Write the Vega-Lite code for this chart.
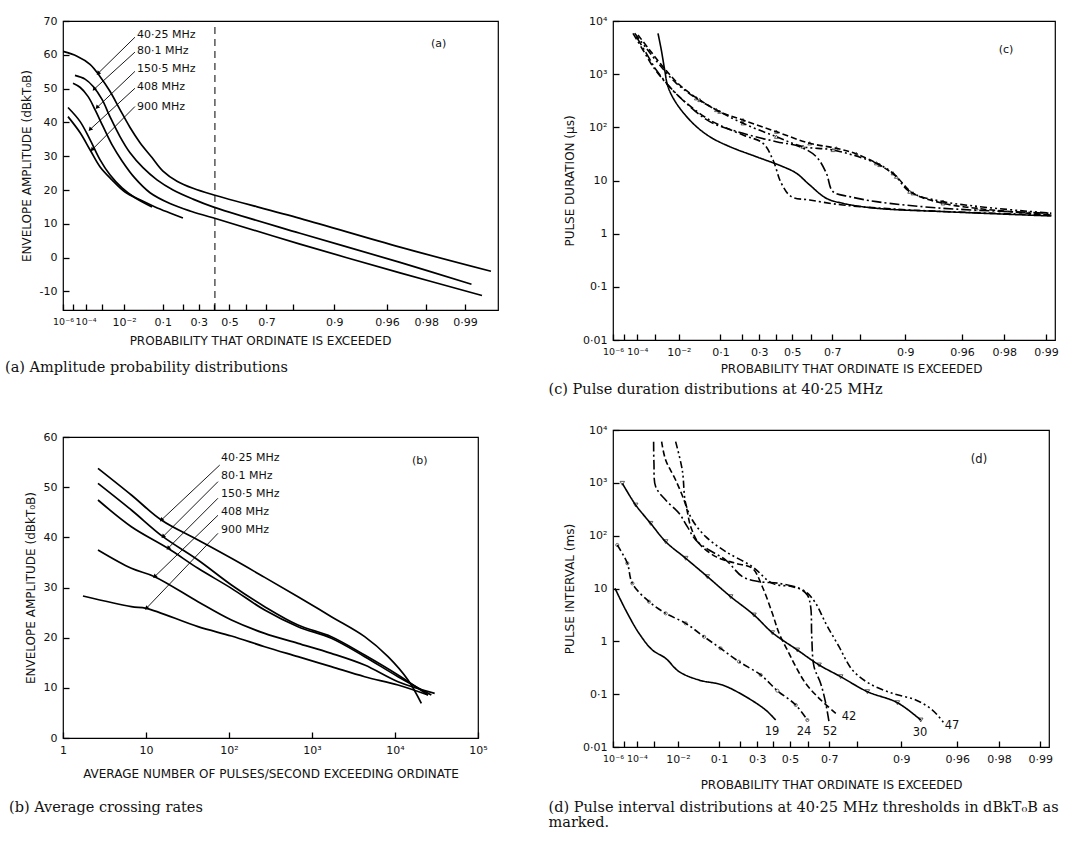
{
  "$schema": "https://vega.github.io/schema/vega-lite/v6.json",
  "background": "white",
  "padding": {"left": 4, "top": 14, "right": 0, "bottom": 0},
  "datasets": {
    "a_curves": [
      {"s": "40·25", "q": 13.8, "y": 61.0}, {"s": "40·25", "q": 10.74, "y": 59.6}, {"s": "40·25", "q": 8.5, "y": 57.2}, {"s": "40·25", "q": 7.11, "y": 53.6}, {"s": "40·25", "q": 5.94, "y": 49.2}, {"s": "40·25", "q": 4.96, "y": 43.8}, {"s": "40·25", "q": 4.14, "y": 38.5}, {"s": "40·25", "q": 3.46, "y": 34.0}, {"s": "40·25", "q": 2.79, "y": 29.6}, {"s": "40·25", "q": 2.29, "y": 25.6}, {"s": "40·25", "q": 1.78, "y": 22.6}, {"s": "40·25", "q": 1.335, "y": 20.5}, {"s": "40·25", "q": 0.932, "y": 18.6}, {"s": "40·25", "q": 0.195, "y": 11.6}, {"s": "40·25", "q": 0.0323, "y": 3.1}, {"s": "40·25", "q": 0.0063, "y": -4.05},
      {"s": "80·1", "q": 11.14, "y": 53.9}, {"s": "80·1", "q": 9.3, "y": 52.8}, {"s": "80·1", "q": 8.06, "y": 50.7}, {"s": "80·1", "q": 6.85, "y": 46.8}, {"s": "80·1", "q": 5.94, "y": 41.7}, {"s": "80·1", "q": 4.96, "y": 35.8}, {"s": "80·1", "q": 4.14, "y": 31.0}, {"s": "80·1", "q": 3.28, "y": 26.6}, {"s": "80·1", "q": 2.55, "y": 23.0}, {"s": "80·1", "q": 1.91, "y": 20.0}, {"s": "80·1", "q": 1.335, "y": 17.3}, {"s": "80·1", "q": 0.932, "y": 15.0}, {"s": "80·1", "q": 0.195, "y": 7.2}, {"s": "80·1", "q": 0.0323, "y": -1.4}, {"s": "80·1", "q": 0.00894, "y": -7.9},
      {"s": "150·5", "q": 11.54, "y": 51.6}, {"s": "150·5", "q": 10.18, "y": 50.4}, {"s": "150·5", "q": 8.82, "y": 47.7}, {"s": "150·5", "q": 7.77, "y": 43.8}, {"s": "150·5", "q": 6.73, "y": 38.8}, {"s": "150·5", "q": 5.73, "y": 33.4}, {"s": "150·5", "q": 4.78, "y": 28.6}, {"s": "150·5", "q": 3.79, "y": 23.5}, {"s": "150·5", "q": 2.89, "y": 19.2}, {"s": "150·5", "q": 2.02, "y": 16.0}, {"s": "150·5", "q": 1.41, "y": 13.8}, {"s": "150·5", "q": 0.932, "y": 11.8}, {"s": "150·5", "q": 0.195, "y": 4.0}, {"s": "150·5", "q": 0.0323, "y": -4.5}, {"s": "150·5", "q": 0.0074, "y": -11.2},
      {"s": "408", "q": 12.63, "y": 44.4}, {"s": "408", "q": 10.18, "y": 40.3}, {"s": "408", "q": 8.5, "y": 34.9}, {"s": "408", "q": 7.11, "y": 29.0}, {"s": "408", "q": 5.94, "y": 24.5}, {"s": "408", "q": 4.78, "y": 20.6}, {"s": "408", "q": 3.79, "y": 17.7}, {"s": "408", "q": 2.79, "y": 15.0},
      {"s": "900", "q": 12.63, "y": 41.7}, {"s": "900", "q": 10.18, "y": 37.0}, {"s": "900", "q": 8.5, "y": 31.9}, {"s": "900", "q": 7.11, "y": 26.9}, {"s": "900", "q": 5.73, "y": 23.0}, {"s": "900", "q": 4.53, "y": 19.4}, {"s": "900", "q": 3.46, "y": 17.1}, {"s": "900", "q": 2.64, "y": 15.0}, {"s": "900", "q": 2.02, "y": 13.2}, {"s": "900", "q": 1.6, "y": 11.7}
    ],
    "a_labels": [
      {"q": 3.65, "y": 65.8, "t": "40·25 MHz"},
      {"q": 3.65, "y": 61.1, "t": "80·1 MHz"},
      {"q": 3.65, "y": 55.7, "t": "150·5 MHz"},
      {"q": 3.65, "y": 50.4, "t": "408 MHz"},
      {"q": 3.65, "y": 44.7, "t": "900 MHz"},
      {"q": 0.0185, "y": 63.2, "t": "(a)"}
    ],
    "a_leaders": [
      {"q": 3.79, "y": 65.2, "q2": 7.36, "y2": 54.5},
      {"q": 3.79, "y": 60.8, "q2": 7.91, "y2": 49.8},
      {"q": 3.79, "y": 55.1, "q2": 7.5, "y2": 44.4},
      {"q": 3.79, "y": 50.1, "q2": 8.5, "y2": 37.9},
      {"q": 3.79, "y": 44.7, "q2": 8.2, "y2": 31.9}
    ],
    "b_curves": [
      {"s": "40·25", "x": 2.64, "y": 53.75}, {"s": "40·25", "x": 6.66, "y": 48.44}, {"s": "40·25", "x": 15.3, "y": 43.45}, {"s": "40·25", "x": 42.3, "y": 39.47}, {"s": "40·25", "x": 107, "y": 35.81}, {"s": "40·25", "x": 269, "y": 32.02}, {"s": "40·25", "x": 678, "y": 28.17}, {"s": "40·25", "x": 1710, "y": 24.18}, {"s": "40·25", "x": 4310, "y": 20.2}, {"s": "40·25", "x": 8240, "y": 16.21}, {"s": "40·25", "x": 14340, "y": 11.56}, {"s": "40·25", "x": 20770, "y": 6.91},
      {"s": "80·1", "x": 2.64, "y": 50.76}, {"s": "80·1", "x": 6.66, "y": 45.45}, {"s": "80·1", "x": 16.0, "y": 40.13}, {"s": "80·1", "x": 42.3, "y": 35.48}, {"s": "80·1", "x": 107, "y": 30.5}, {"s": "80·1", "x": 269, "y": 26.18}, {"s": "80·1", "x": 678, "y": 22.52}, {"s": "80·1", "x": 1710, "y": 20.2}, {"s": "80·1", "x": 4310, "y": 16.54}, {"s": "80·1", "x": 10870, "y": 12.56}, {"s": "80·1", "x": 24980, "y": 8.57},
      {"s": "150·5", "x": 2.64, "y": 47.44}, {"s": "150·5", "x": 6.66, "y": 42.12}, {"s": "150·5", "x": 18.4, "y": 37.81}, {"s": "150·5", "x": 42.3, "y": 33.82}, {"s": "150·5", "x": 107, "y": 29.83}, {"s": "150·5", "x": 269, "y": 25.51}, {"s": "150·5", "x": 678, "y": 22.19}, {"s": "150·5", "x": 1710, "y": 19.87}, {"s": "150·5", "x": 4310, "y": 16.21}, {"s": "150·5", "x": 10870, "y": 12.22}, {"s": "150·5", "x": 27400, "y": 8.57},
      {"s": "408", "x": 2.64, "y": 37.47}, {"s": "408", "x": 6.66, "y": 33.82}, {"s": "408", "x": 12.7, "y": 32.16}, {"s": "408", "x": 42.3, "y": 27.17}, {"s": "408", "x": 107, "y": 23.52}, {"s": "408", "x": 269, "y": 20.86}, {"s": "408", "x": 678, "y": 18.87}, {"s": "408", "x": 1710, "y": 16.88}, {"s": "408", "x": 4310, "y": 14.55}, {"s": "408", "x": 10870, "y": 11.23}, {"s": "408", "x": 30060, "y": 8.9},
      {"s": "900", "x": 1.74, "y": 28.3}, {"s": "900", "x": 6.66, "y": 26.18}, {"s": "900", "x": 10.1, "y": 25.85}, {"s": "900", "x": 42.3, "y": 22.19}, {"s": "900", "x": 107, "y": 20.33}, {"s": "900", "x": 269, "y": 18.2}, {"s": "900", "x": 678, "y": 16.21}, {"s": "900", "x": 1710, "y": 14.22}, {"s": "900", "x": 4310, "y": 12.22}, {"s": "900", "x": 10870, "y": 10.56}, {"s": "900", "x": 24980, "y": 8.57}
    ],
    "b_labels": [
      {"x": 80, "y": 55.8, "t": "40·25 MHz"},
      {"x": 80, "y": 52.2, "t": "80·1 MHz"},
      {"x": 80, "y": 48.6, "t": "150·5 MHz"},
      {"x": 80, "y": 45.0, "t": "408 MHz"},
      {"x": 80, "y": 41.5, "t": "900 MHz"},
      {"x": 16030, "y": 55.2, "t": "(b)"}
    ],
    "b_leaders": [
      {"x": 77.3, "y": 54.4, "x2": 15.3, "y2": 43.45},
      {"x": 73.7, "y": 51.1, "x2": 16.0, "y2": 40.13},
      {"x": 73.7, "y": 47.8, "x2": 18.4, "y2": 37.81},
      {"x": 73.7, "y": 44.4, "x2": 12.7, "y2": 32.16},
      {"x": 73.7, "y": 40.8, "x2": 10.1, "y2": 25.85}
    ],
    "c_curves": [
      {"s": "c1", "q": 6.52, "y": 5860}, {"s": "c1", "q": 6.17, "y": 2850}, {"s": "c1", "q": 5.83, "y": 1197}, {"s": "c1", "q": 5.52, "y": 581}, {"s": "c1", "q": 4.8, "y": 283}, {"s": "c1", "q": 3.64, "y": 119}, {"s": "c1", "q": 2.75, "y": 66.7}, {"s": "c1", "q": 1.97, "y": 43.3}, {"s": "c1", "q": 1.264, "y": 28.0}, {"s": "c1", "q": 0.81, "y": 18.2}, {"s": "c1", "q": 0.648, "y": 13.7}, {"s": "c1", "q": 0.519, "y": 8.24}, {"s": "c1", "q": 0.393, "y": 4.62}, {"s": "c1", "q": 0.298, "y": 3.72}, {"s": "c1", "q": 0.1707, "y": 3.0}, {"s": "c1", "q": 0.0561, "y": 2.6}, {"s": "c1", "q": 0.0092, "y": 2.15},
      {"s": "c2", "q": 9.9, "y": 5860}, {"s": "c2", "q": 8.38, "y": 2850}, {"s": "c2", "q": 7.09, "y": 1385}, {"s": "c2", "q": 5.68, "y": 673}, {"s": "c2", "q": 4.3, "y": 327}, {"s": "c2", "q": 2.75, "y": 137}, {"s": "c2", "q": 1.579, "y": 71.8}, {"s": "c2", "q": 1.131, "y": 50.1}, {"s": "c2", "q": 0.957, "y": 24.3}, {"s": "c2", "q": 0.833, "y": 8.85}, {"s": "c2", "q": 0.705, "y": 4.97}, {"s": "c2", "q": 0.519, "y": 4.3}, {"s": "c2", "q": 0.298, "y": 3.46}, {"s": "c2", "q": 0.0979, "y": 2.79}, {"s": "c2", "q": 0.0092, "y": 2.24},
      {"s": "c3", "q": 9.37, "y": 5070}, {"s": "c3", "q": 7.92, "y": 2466}, {"s": "c3", "q": 6.71, "y": 1197}, {"s": "c3", "q": 5.37, "y": 581}, {"s": "c3", "q": 4.06, "y": 283}, {"s": "c3", "q": 2.75, "y": 128}, {"s": "c3", "q": 1.579, "y": 77.3}, {"s": "c3", "q": 0.905, "y": 53.7}, {"s": "c3", "q": 0.613, "y": 43.3}, {"s": "c3", "q": 0.4645, "y": 28.0}, {"s": "c3", "q": 0.393, "y": 13.7}, {"s": "c3", "q": 0.352, "y": 6.17}, {"s": "c3", "q": 0.2663, "y": 4.97}, {"s": "c3", "q": 0.1707, "y": 4.0}, {"s": "c3", "q": 0.0561, "y": 3.0}, {"s": "c3", "q": 0.0092, "y": 2.42},
      {"s": "c4", "q": 9.1, "y": 5455}, {"s": "c4", "q": 7.5, "y": 2850}, {"s": "c4", "q": 6.0, "y": 1385}, {"s": "c4", "q": 4.54, "y": 625}, {"s": "c4", "q": 3.25, "y": 327}, {"s": "c4", "q": 2.33, "y": 197}, {"s": "c4", "q": 1.579, "y": 137}, {"s": "c4", "q": 0.905, "y": 82.8}, {"s": "c4", "q": 0.519, "y": 50.1}, {"s": "c4", "q": 0.3327, "y": 40.3}, {"s": "c4", "q": 0.238, "y": 31.6}, {"s": "c4", "q": 0.1614, "y": 19.6}, {"s": "c4", "q": 0.1223, "y": 11.8}, {"s": "c4", "q": 0.0926, "y": 5.75}, {"s": "c4", "q": 0.0561, "y": 3.72}, {"s": "c4", "q": 0.0322, "y": 3.0}, {"s": "c4", "q": 0.01845, "y": 2.6}, {"s": "c4", "q": 0.0092, "y": 2.24},
      {"s": "c5", "q": 9.63, "y": 5860}, {"s": "c5", "q": 7.92, "y": 3070}, {"s": "c5", "q": 6.34, "y": 1486}, {"s": "c5", "q": 4.8, "y": 673}, {"s": "c5", "q": 3.44, "y": 352}, {"s": "c5", "q": 2.46, "y": 212}, {"s": "c5", "q": 1.579, "y": 119}, {"s": "c5", "q": 0.905, "y": 66.7}, {"s": "c5", "q": 0.58, "y": 43.3}, {"s": "c5", "q": 0.352, "y": 37.5}, {"s": "c5", "q": 0.1707, "y": 21.1}, {"s": "c5", "q": 0.1292, "y": 13.7}, {"s": "c5", "q": 0.0979, "y": 6.17}, {"s": "c5", "q": 0.0561, "y": 4.0}, {"s": "c5", "q": 0.0092, "y": 2.42}
    ],
    "c_labels": [
      {"q": 0.0196, "y": 2849, "t": "(c)"}
    ],
    "d_curves": [
      {"s": "19", "q": 13.36, "y": 10.1}, {"s": "19", "q": 11.15, "y": 3.92}, {"s": "19", "q": 8.9, "y": 1.42}, {"s": "19", "q": 7.1, "y": 0.686}, {"s": "19", "q": 5.67, "y": 0.477}, {"s": "19", "q": 4.52, "y": 0.267}, {"s": "19", "q": 3.23, "y": 0.185}, {"s": "19", "q": 2.17, "y": 0.149}, {"s": "19", "q": 1.464, "y": 0.0897}, {"s": "19", "q": 1.044, "y": 0.0501}, {"s": "19", "q": 0.882, "y": 0.0324},
      {"s": "24", "q": 12.85, "y": 66.6}, {"s": "24", "q": 10.84, "y": 30.0}, {"s": "24", "q": 9.96, "y": 12.5}, {"s": "24", "q": 7.51, "y": 5.63}, {"s": "24", "q": 5.67, "y": 3.39}, {"s": "24", "q": 4.04, "y": 2.19}, {"s": "24", "q": 2.96, "y": 1.22}, {"s": "24", "q": 2.24, "y": 0.737}, {"s": "24", "q": 1.639, "y": 0.412}, {"s": "24", "q": 1.136, "y": 0.231}, {"s": "24", "q": 0.857, "y": 0.1164}, {"s": "24", "q": 0.628, "y": 0.0624}, {"s": "24", "q": 0.516, "y": 0.0324},
      {"s": "52", "q": 6.95, "y": 6015}, {"s": "52", "q": 6.91, "y": 2339}, {"s": "52", "q": 6.71, "y": 846}, {"s": "52", "q": 5.67, "y": 473}, {"s": "52", "q": 4.52, "y": 265}, {"s": "52", "q": 3.93, "y": 148}, {"s": "52", "q": 3.41, "y": 82.8}, {"s": "52", "q": 2.72, "y": 53.6}, {"s": "52", "q": 2.05, "y": 34.6}, {"s": "52", "q": 1.549, "y": 16.8}, {"s": "52", "q": 1.169, "y": 13.5}, {"s": "52", "q": 0.833, "y": 12.5}, {"s": "52", "q": 0.594, "y": 10.1}, {"s": "52", "q": 0.516, "y": 7.53}, {"s": "52", "q": 0.488, "y": 4.53}, {"s": "52", "q": 0.479, "y": 1.22}, {"s": "52", "q": 0.461, "y": 0.332}, {"s": "52", "q": 0.412, "y": 0.16}, {"s": "52", "q": 0.378, "y": 0.067}, {"s": "52", "q": 0.358, "y": 0.0302},
      {"s": "42", "q": 6.07, "y": 6015}, {"s": "42", "q": 5.67, "y": 2704}, {"s": "42", "q": 4.79, "y": 1132}, {"s": "42", "q": 4.04, "y": 380}, {"s": "42", "q": 3.71, "y": 148}, {"s": "42", "q": 3.23, "y": 71.6}, {"s": "42", "q": 2.43, "y": 40.1}, {"s": "42", "q": 1.734, "y": 30.0}, {"s": "42", "q": 1.308, "y": 24.1}, {"s": "42", "q": 1.105, "y": 10.8}, {"s": "42", "q": 0.933, "y": 3.39}, {"s": "42", "q": 0.833, "y": 1.42}, {"s": "42", "q": 0.724, "y": 0.686}, {"s": "42", "q": 0.628, "y": 0.332}, {"s": "42", "q": 0.531, "y": 0.16}, {"s": "42", "q": 0.423, "y": 0.0834}, {"s": "42", "q": 0.319, "y": 0.0434},
      {"s": "47", "q": 4.79, "y": 6015}, {"s": "47", "q": 4.28, "y": 1750}, {"s": "47", "q": 4.04, "y": 407}, {"s": "47", "q": 3.61, "y": 198}, {"s": "47", "q": 2.88, "y": 95.8}, {"s": "47", "q": 2.05, "y": 49.8}, {"s": "47", "q": 1.308, "y": 25.9}, {"s": "47", "q": 0.933, "y": 12.5}, {"s": "47", "q": 0.665, "y": 10.8}, {"s": "47", "q": 0.531, "y": 8.72}, {"s": "47", "q": 0.448, "y": 5.24}, {"s": "47", "q": 0.378, "y": 2.19}, {"s": "47", "q": 0.302, "y": 0.793}, {"s": "47", "q": 0.2409, "y": 0.287}, {"s": "47", "q": 0.1817, "y": 0.16}, {"s": "47", "q": 0.1225, "y": 0.1037}, {"s": "47", "q": 0.0825, "y": 0.0775}, {"s": "47", "q": 0.0622, "y": 0.0501}, {"s": "47", "q": 0.0511, "y": 0.0281},
      {"s": "30", "q": 11.8, "y": 979}, {"s": "30", "q": 9.41, "y": 380}, {"s": "30", "q": 7.31, "y": 171}, {"s": "30", "q": 5.67, "y": 77.0}, {"s": "30", "q": 4.04, "y": 37.3}, {"s": "30", "q": 2.8, "y": 16.8}, {"s": "30", "q": 1.887, "y": 7.0}, {"s": "30", "q": 1.272, "y": 3.15}, {"s": "30", "q": 0.933, "y": 1.46}, {"s": "30", "q": 0.611, "y": 0.686}, {"s": "30", "q": 0.423, "y": 0.357}, {"s": "30", "q": 0.2935, "y": 0.214}, {"s": "30", "q": 0.1869, "y": 0.1115}, {"s": "30", "q": 0.1125, "y": 0.069}, {"s": "30", "q": 0.0758, "y": 0.0324}
    ],
    "d_labels": [
      {"q": 0.938, "y": 0.0192, "t": "19"},
      {"q": 0.546, "y": 0.0192, "t": "24"},
      {"q": 0.3516, "y": 0.0192, "t": "52"},
      {"q": 0.2549, "y": 0.0369, "t": "42"},
      {"q": 0.0767, "y": 0.0184, "t": "30"},
      {"q": 0.0446, "y": 0.0249, "t": "47"},
      {"q": 0.0283, "y": 2704, "t": "(d)"}
    ]
  },
  "hconcat": [
    {
      "spacing": 54,
      "vconcat": [
        {
          "width": 435,
          "height": 289,
          "title": {"text": "(a)  Amplitude probability distributions", "offset": 15},
          "encoding": {
            "x": {"field": "q", "type": "quantitative",
              "scale": {"type": "log", "domain": [0.00555, 13.8155], "reverse": true, "nice": false},
              "axis": {
                "title": "PROBABILITY  THAT ORDINATE IS EXCEEDED",
                "titlePadding": 10,
                "titleX": 197,
                "titleY": 31,
                "titleBaseline": "top",
                "labelOverlap": false,
                "labelFontSize": {"condition": {"test": "datum.value > 9", "value": 9.5}, "value": 11},
                "values": [13.8155, 11.5129, 9.2103, 6.9078, 4.6052, 2.3026, 1.6094, 1.204, 0.9163, 0.6931, 0.5108, 0.3567, 0.2231, 0.1054, 0.0408, 0.0202, 0.01005],
                "labelExpr": "datum.value > 13 ? '10⁻⁶' : datum.value > 11 ? '' : datum.value > 9 ? '10⁻⁴' : datum.value > 5 ? '' : datum.value > 4 ? '10⁻²' : datum.value > 2 ? '0·1' : datum.value > 1.5 ? '' : datum.value > 1.1 ? '0·3' : datum.value > 0.8 ? '' : datum.value > 0.6 ? '0·5' : datum.value > 0.45 ? '' : datum.value > 0.3 ? '0·7' : datum.value > 0.15 ? '' : datum.value > 0.09 ? '0·9' : datum.value > 0.03 ? '0·96' : datum.value > 0.015 ? '0·98' : '0·99'"
              }
            },
            "y": {"field": "y", "type": "quantitative",
              "scale": {"domain": [-15.5, 70], "nice": false, "zero": false},
              "axis": {
                "title": "ENVELOPE AMPLITUDE  (dBkT₀B)",
                "labelOverlap": false,
                "tickCount": 9,
                "labelExpr": "datum.value < 0 ? '-' + abs(datum.value) : '' + datum.value"
              }
            }
          },
          "layer": [
            {
              "data": {"name": "a_curves"},
              "mark": {"type": "line", "color": "black", "strokeWidth": 1.7, "interpolate": "catmull-rom"},
              "encoding": {
                "detail": {"field": "s"}
              }
            },
            {
              "data": {"name": "a_leaders"},
              "mark": {"type": "rule", "color": "black", "strokeWidth": 0.9},
              "encoding": {
                "x2": {"field": "q2"},
                "y2": {"field": "y2"}
              }
            },
            {
              "data": {"name": "a_labels"},
              "mark": {"type": "text", "align": "left", "baseline": "middle", "font": "DejaVu Sans", "fontSize": 11, "color": "#111"},
              "encoding": {
                "text": {"field": "t"}
              }
            },
            {
              "data": {"values": [{"q": 0.9, "y": -15.5, "y2": 70}]},
              "mark": {"type": "rule", "color": "black", "strokeWidth": 1, "strokeDash": [7, 5]},
              "encoding": {
                "y2": {"field": "y2"}
              }
            },
            {
              "data": {"name": "a_leaders"},
              "mark": {"type": "point", "shape": "triangle-up", "angle": 222, "size": 22, "filled": true, "color": "black", "opacity": 1},
              "encoding": {
                "x": {"field": "q2", "type": "quantitative"},
                "y": {"field": "y2", "type": "quantitative"}
              }
            }
          ]
        },
        {
          "width": 415,
          "height": 301,
          "title": {"text": "(b)  Average crossing rates", "offset": 22},
          "layer": [
            {
              "data": {"name": "b_curves"},
              "mark": {"type": "line", "color": "black", "strokeWidth": 1.7, "interpolate": "catmull-rom"},
              "encoding": {
                "x": {"field": "x", "type": "quantitative",
                  "scale": {"type": "log", "domain": [1, 100000], "nice": false},
                  "axis": {
                    "title": "AVERAGE NUMBER OF PULSES/SECOND EXCEEDING ORDINATE",
                    "titlePadding": 13,
                    "labelOverlap": false,
                    "values": [1, 10, 100, 1000, 10000, 100000],
                    "labelExpr": "datum.value < 5 ? '1' : datum.value < 50 ? '10' : datum.value < 500 ? '10²' : datum.value < 5000 ? '10³' : datum.value < 50000 ? '10⁴' : '10⁵'"
                  }
                },
                "y": {"field": "y", "type": "quantitative",
                  "scale": {"domain": [0, 60], "nice": false},
                  "axis": {"title": "ENVELOPE AMPLITUDE  (dBkT₀B)", "labelOverlap": false, "tickCount": 7}
                },
                "detail": {"field": "s"}
              }
            },
            {
              "data": {"name": "b_leaders"},
              "mark": {"type": "rule", "color": "black", "strokeWidth": 0.9},
              "encoding": {
                "x": {"field": "x", "type": "quantitative"},
                "y": {"field": "y", "type": "quantitative"},
                "x2": {"field": "x2"},
                "y2": {"field": "y2"}
              }
            },
            {
              "data": {"name": "b_leaders"},
              "mark": {"type": "point", "shape": "triangle-up", "angle": 226, "size": 22, "filled": true, "color": "black", "opacity": 1},
              "encoding": {
                "x": {"field": "x2", "type": "quantitative"},
                "y": {"field": "y2", "type": "quantitative"}
              }
            },
            {
              "data": {"name": "b_labels"},
              "mark": {"type": "text", "align": "left", "baseline": "middle", "font": "DejaVu Sans", "fontSize": 11, "color": "#111"},
              "encoding": {
                "x": {"field": "x", "type": "quantitative"},
                "y": {"field": "y", "type": "quantitative"},
                "text": {"field": "t"}
              }
            }
          ]
        }
      ]
    },
    {
      "spacing": 25,
      "vconcat": [
        {
          "width": 442,
          "height": 319,
          "title": {"text": "(c)  Pulse duration distributions at 40·25 MHz", "offset": 9},
          "layer": [
            {
              "data": {"name": "c_curves"},
              "mark": {"type": "line", "color": "black", "strokeWidth": 1.6, "interpolate": "catmull-rom"},
              "encoding": {
                "x": {"field": "q", "type": "quantitative",
                  "scale": {"type": "log", "domain": [0.00866, 13.8155], "reverse": true, "nice": false},
                  "axis": {
                    "title": "PROBABILITY  THAT ORDINATE IS EXCEEDED",
                    "titlePadding": 8,
                    "titleX": 238,
                    "titleY": 29,
                    "titleBaseline": "top",
                    "labelOverlap": false,
                    "labelFontSize": {"condition": {"test": "datum.value > 9", "value": 9.5}, "value": 11},
                    "values": [13.8155, 11.5129, 9.2103, 6.9078, 4.6052, 2.3026, 1.6094, 1.204, 0.9163, 0.6931, 0.5108, 0.3567, 0.2231, 0.1054, 0.0408, 0.0202, 0.01005],
                    "labelExpr": "datum.value > 13 ? '10⁻⁶' : datum.value > 11 ? '' : datum.value > 9 ? '10⁻⁴' : datum.value > 5 ? '' : datum.value > 4 ? '10⁻²' : datum.value > 2 ? '0·1' : datum.value > 1.5 ? '' : datum.value > 1.1 ? '0·3' : datum.value > 0.8 ? '' : datum.value > 0.6 ? '0·5' : datum.value > 0.45 ? '' : datum.value > 0.3 ? '0·7' : datum.value > 0.15 ? '' : datum.value > 0.09 ? '0·9' : datum.value > 0.03 ? '0·96' : datum.value > 0.015 ? '0·98' : '0·99'"
                  }
                },
                "y": {"field": "y", "type": "quantitative",
                  "scale": {"type": "log", "domain": [0.01, 10000], "nice": false},
                  "axis": {
                    "title": "PULSE DURATION  (μs)",
                    "labelOverlap": false,
                    "values": [0.01, 0.1, 1, 10, 100, 1000, 10000],
                    "labelExpr": "datum.value < 0.05 ? '0·01' : datum.value < 0.5 ? '0·1' : datum.value < 5 ? '1' : datum.value < 50 ? '10' : datum.value < 500 ? '10²' : datum.value < 5000 ? '10³' : '10⁴'"
                  }
                },
                "strokeDash": {"field": "s", "type": "nominal", "legend": null,
                  "scale": {"domain": ["c1", "c2", "c3", "c4", "c5"], "range": [[1, 0], [7, 3, 2, 3], [10, 3, 2, 3], [6, 3], [7, 3, 2, 3, 2, 3]]}
                }
              }
            },
            {
              "data": {"name": "c_curves"},
              "transform": [{"filter": "datum.s == 'c4' || datum.s == 'c5'"}, {"filter": "datum.q < 4 && datum.q > 0.02"}],
              "mark": {"type": "point", "shape": "triangle-up", "size": 14, "color": "black", "strokeWidth": 0.9, "filled": false},
              "encoding": {
                "x": {"field": "q", "type": "quantitative"},
                "y": {"field": "y", "type": "quantitative"}
              }
            },
            {
              "data": {"name": "c_labels"},
              "mark": {"type": "text", "align": "center", "baseline": "middle", "font": "DejaVu Sans", "fontSize": 11, "color": "#111"},
              "encoding": {
                "x": {"field": "q", "type": "quantitative"},
                "y": {"field": "y", "type": "quantitative"},
                "text": {"field": "t"}
              }
            }
          ]
        },
        {
          "width": 436,
          "height": 317,
          "title": {"text": ["(d)  Pulse interval distributions at 40·25 MHz thresholds in dBkT₀B as", "marked."], "offset": 11, "lineHeight": 15},
          "layer": [
            {
              "data": {"name": "d_curves"},
              "mark": {"type": "line", "color": "black", "strokeWidth": 1.6, "interpolate": "catmull-rom"},
              "encoding": {
                "x": {"field": "q", "type": "quantitative",
                  "scale": {"type": "log", "domain": [0.00866, 13.8155], "reverse": true, "nice": false},
                  "axis": {
                    "title": "PROBABILITY  THAT ORDINATE IS EXCEEDED",
                    "titlePadding": 15,
                    "labelOverlap": false,
                    "labelFontSize": {"condition": {"test": "datum.value > 9", "value": 9.5}, "value": 11},
                    "values": [13.8155, 11.5129, 9.2103, 6.9078, 4.6052, 2.3026, 1.6094, 1.204, 0.9163, 0.6931, 0.5108, 0.3567, 0.2231, 0.1054, 0.0408, 0.0202, 0.01005],
                    "labelExpr": "datum.value > 13 ? '10⁻⁶' : datum.value > 11 ? '' : datum.value > 9 ? '10⁻⁴' : datum.value > 5 ? '' : datum.value > 4 ? '10⁻²' : datum.value > 2 ? '0·1' : datum.value > 1.5 ? '' : datum.value > 1.1 ? '0·3' : datum.value > 0.8 ? '' : datum.value > 0.6 ? '0·5' : datum.value > 0.45 ? '' : datum.value > 0.3 ? '0·7' : datum.value > 0.15 ? '' : datum.value > 0.09 ? '0·9' : datum.value > 0.03 ? '0·96' : datum.value > 0.015 ? '0·98' : '0·99'"
                  }
                },
                "y": {"field": "y", "type": "quantitative",
                  "scale": {"type": "log", "domain": [0.01, 10000], "nice": false},
                  "axis": {
                    "title": "PULSE INTERVAL  (ms)",
                    "labelOverlap": false,
                    "values": [0.01, 0.1, 1, 10, 100, 1000, 10000],
                    "labelExpr": "datum.value < 0.05 ? '0·01' : datum.value < 0.5 ? '0·1' : datum.value < 5 ? '1' : datum.value < 50 ? '10' : datum.value < 500 ? '10²' : datum.value < 5000 ? '10³' : '10⁴'"
                  }
                },
                "strokeDash": {"field": "s", "type": "nominal", "legend": null,
                  "scale": {"domain": ["19", "24", "52", "42", "47", "30"], "range": [[7, 3, 2, 3], [8, 3, 2, 3], [1, 0], [7, 3, 2, 3, 2, 3], [6, 4], [9, 3, 2, 3]]}
                }
              }
            },
            {
              "data": {"name": "d_curves"},
              "transform": [{"filter": "datum.s == '24'"}],
              "mark": {"type": "point", "shape": "circle", "size": 10, "color": "black", "strokeWidth": 0.8, "filled": false},
              "encoding": {
                "x": {"field": "q", "type": "quantitative"},
                "y": {"field": "y", "type": "quantitative"}
              }
            },
            {
              "data": {"name": "d_curves"},
              "transform": [{"filter": "datum.s == '30'"}],
              "mark": {"type": "point", "shape": "triangle-down", "size": 20, "color": "black", "strokeWidth": 0.9, "filled": false},
              "encoding": {
                "x": {"field": "q", "type": "quantitative"},
                "y": {"field": "y", "type": "quantitative"}
              }
            },
            {
              "data": {"name": "d_labels"},
              "mark": {"type": "text", "align": "center", "baseline": "middle", "font": "DejaVu Sans", "fontSize": 11.5, "color": "#111"},
              "encoding": {
                "x": {"field": "q", "type": "quantitative"},
                "y": {"field": "y", "type": "quantitative"},
                "text": {"field": "t"}
              }
            }
          ]
        }
      ]
    }
  ],
  "spacing": 48,
  "config": {
    "view": {"stroke": "black", "strokeWidth": 1.2},
    "font": "DejaVu Sans",
    "axis": {
      "domain": false,
      "grid": false,
      "ticks": true,
      "offset": -6,
      "tickColor": "black",
      "tickSize": 6,
      "tickWidth": 1.3,
      "tickOpacity": 1,
      "labelPadding": 6,
      "labelFont": "DejaVu Sans",
      "labelFontSize": 11,
      "labelColor": "#111",
      "labelOverlap": false,
      "labelFlush": false,
      "labelBound": false,
      "titleFont": "DejaVu Sans",
      "titleFontSize": 12,
      "titleFontWeight": "normal",
      "titleColor": "#111"
    },
    "axisY": {"titlePadding": 6},
    "title": {
      "orient": "bottom",
      "anchor": "start",
      "font": "DejaVu Serif",
      "fontSize": 14.5,
      "fontWeight": "normal",
      "color": "#111",
      "dx": -15,
      "lineHeight": 17
    }
  }
}
